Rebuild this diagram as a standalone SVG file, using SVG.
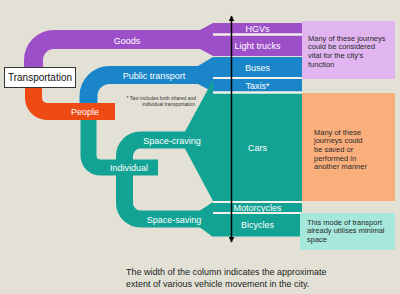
<svg xmlns="http://www.w3.org/2000/svg" width="400" height="294" viewBox="0 0 400 294">
<defs>
<style>
.t{font-family:"Liberation Sans",Arial,sans-serif;}
.w{fill:#ffffff;font-size:9px;text-anchor:middle;}
.d{fill:#2a2a2a;font-size:7.5px;}
.band{fill:none;stroke-linecap:butt;}
.sep{fill:#f4f1ec;}
</style>
<marker id="ah" viewBox="0 0 10 10" refX="9" refY="5" markerWidth="6" markerHeight="6" orient="auto-start-reverse" markerUnits="userSpaceOnUse">
<path d="M0,0 L10,5 L0,10 z" fill="#000"/>
</marker>
</defs>
<rect width="400" height="294" fill="#e3e1d6"/>

<g id="connectors">
<path class="band" d="M33.5,68 V60 A20.5,20.5 0 0 1 54,39.5 H201" stroke="#9c4fc9" stroke-width="19"/>
<polygon points="200,30 213,23 213,56 200,49" fill="#9c4fc9"/>
<path class="band" d="M88.5,104 V96 A21,21 0 0 1 109.5,75 H199" stroke="#1a86c9" stroke-width="18"/>
<polygon points="198,66 213,57 213,92 198,84" fill="#1a86c9"/>
<path class="band" d="M88.5,118 V155.5 A12,12 0 0 0 100.5,167.5 H158" stroke="#13a394" stroke-width="16"/>
<path class="band" d="M124.5,170 V156 A16,16 0 0 1 140.5,140 H186" stroke="#13a394" stroke-width="17"/>
<path class="band" d="M124.5,165 V203 A16,16 0 0 0 140.5,219 H201" stroke="#13a394" stroke-width="17"/>
<polygon points="185,131.5 213,80 213,201 185,148.5" fill="#13a394"/>
<polygon points="200,210.5 213,202 213,237 200,227.5" fill="#13a394"/>
<path class="band" d="M33.5,87 V98 A13.5,13.5 0 0 0 47,111.5 H115" stroke="#ee4a14" stroke-width="17"/>
</g>

<g id="transportation">
<rect x="4.5" y="67.5" width="71" height="20" fill="#ffffff" stroke="#333" stroke-width="1"/>
<text class="t" x="40" y="81" font-size="10" text-anchor="middle" fill="#111">Transportation</text>
</g>
<g id="goods"><text class="t w" x="127" y="43.5">Goods</text></g>
<g id="public-transport"><text class="t w" x="154" y="78.5">Public transport</text></g>
<g id="people"><text class="t w" x="85" y="115">People</text></g>
<g id="individual"><text class="t w" x="129" y="170.5">Individual</text></g>
<g id="space-craving"><text class="t w" x="172" y="143.5">Space-craving</text></g>
<g id="space-saving"><text class="t w" x="174" y="222.5">Space-saving</text></g>

<g id="note">
<text class="t" x="196" y="100" font-size="5" fill="#333" text-anchor="end">* Taxi includes both shared and</text>
<text class="t" x="195" y="105.5" font-size="5" fill="#333" text-anchor="end">individual transportation</text>
</g>

<g id="hgvs"><rect x="213" y="23" width="89" height="10.5" fill="#9c4fc9"/><text class="t w" x="257.5" y="31.5">HGVs</text></g>
<g id="light-trucks"><rect x="213" y="35.5" width="89" height="20.5" fill="#9c4fc9"/><text class="t w" x="257.5" y="49">Light trucks</text></g>
<g id="buses"><rect x="213" y="57" width="89" height="20" fill="#1a86c9"/><text class="t w" x="257.5" y="71">Buses</text></g>
<g id="taxis"><rect x="213" y="79" width="89" height="12.5" fill="#1a86c9"/><text class="t w" x="257.5" y="88.5">Taxis*</text></g>
<g id="cars"><rect x="213" y="93.5" width="89" height="107.5" fill="#13a394"/><text class="t w" x="257.5" y="150.5">Cars</text></g>
<g id="motorcycles"><rect x="213" y="203" width="89" height="9" fill="#13a394"/><text class="t w" x="257.5" y="211">Motorcycles</text></g>
<g id="bicycles"><rect x="213" y="214" width="89" height="22.5" fill="#13a394"/><text class="t w" x="257.5" y="228">Bicycles</text></g>

<g id="separators">
<rect class="sep" x="213" y="33.5" width="89" height="2"/>
<rect class="sep" x="213" y="77" width="89" height="2"/>
<rect class="sep" x="213" y="91.5" width="89" height="2"/>
<rect class="sep" x="213" y="201" width="89" height="2"/>
<rect class="sep" x="213" y="212" width="89" height="2"/>
</g>

<g id="axis">
<line x1="231.5" y1="242" x2="231.5" y2="16" stroke="#000" stroke-width="1.5" marker-start="url(#ah)" marker-end="url(#ah)"/>
</g>

<g id="vital-box">
<rect x="302" y="21" width="93" height="58" fill="#e0b5f0"/>
<text class="t d" x="308" y="40.5">Many of these journeys</text>
<text class="t d" x="308" y="49.2">could be considered</text>
<text class="t d" x="308" y="57.9">vital for the city's</text>
<text class="t d" x="308" y="66.6">function</text>
</g>
<g id="saved-box">
<rect x="302" y="93" width="93" height="108" fill="#f9ae7c"/>
<text class="t d" x="314" y="134.5">Many of these</text>
<text class="t d" x="314" y="143.2">journeys could</text>
<text class="t d" x="314" y="151.9">be saved or</text>
<text class="t d" x="314" y="160.6">performed in</text>
<text class="t d" x="314" y="169.3">another manner</text>
</g>
<g id="minimal-box">
<rect x="300" y="213" width="95" height="37" fill="#a6e8dc"/>
<text class="t d" x="307" y="224.5" font-size="7">This mode of transport</text>
<text class="t d" x="307" y="233" font-size="7">already utilises minimal</text>
<text class="t d" x="307" y="241.5" font-size="7">space</text>
</g>

<g id="caption">
<text class="t" x="126" y="274.5" font-size="9" fill="#222">The width of the column indicates the approximate</text>
<text class="t" x="126" y="287" font-size="9" fill="#222">extent of various vehicle movement in the city.</text>
</g>
</svg>
